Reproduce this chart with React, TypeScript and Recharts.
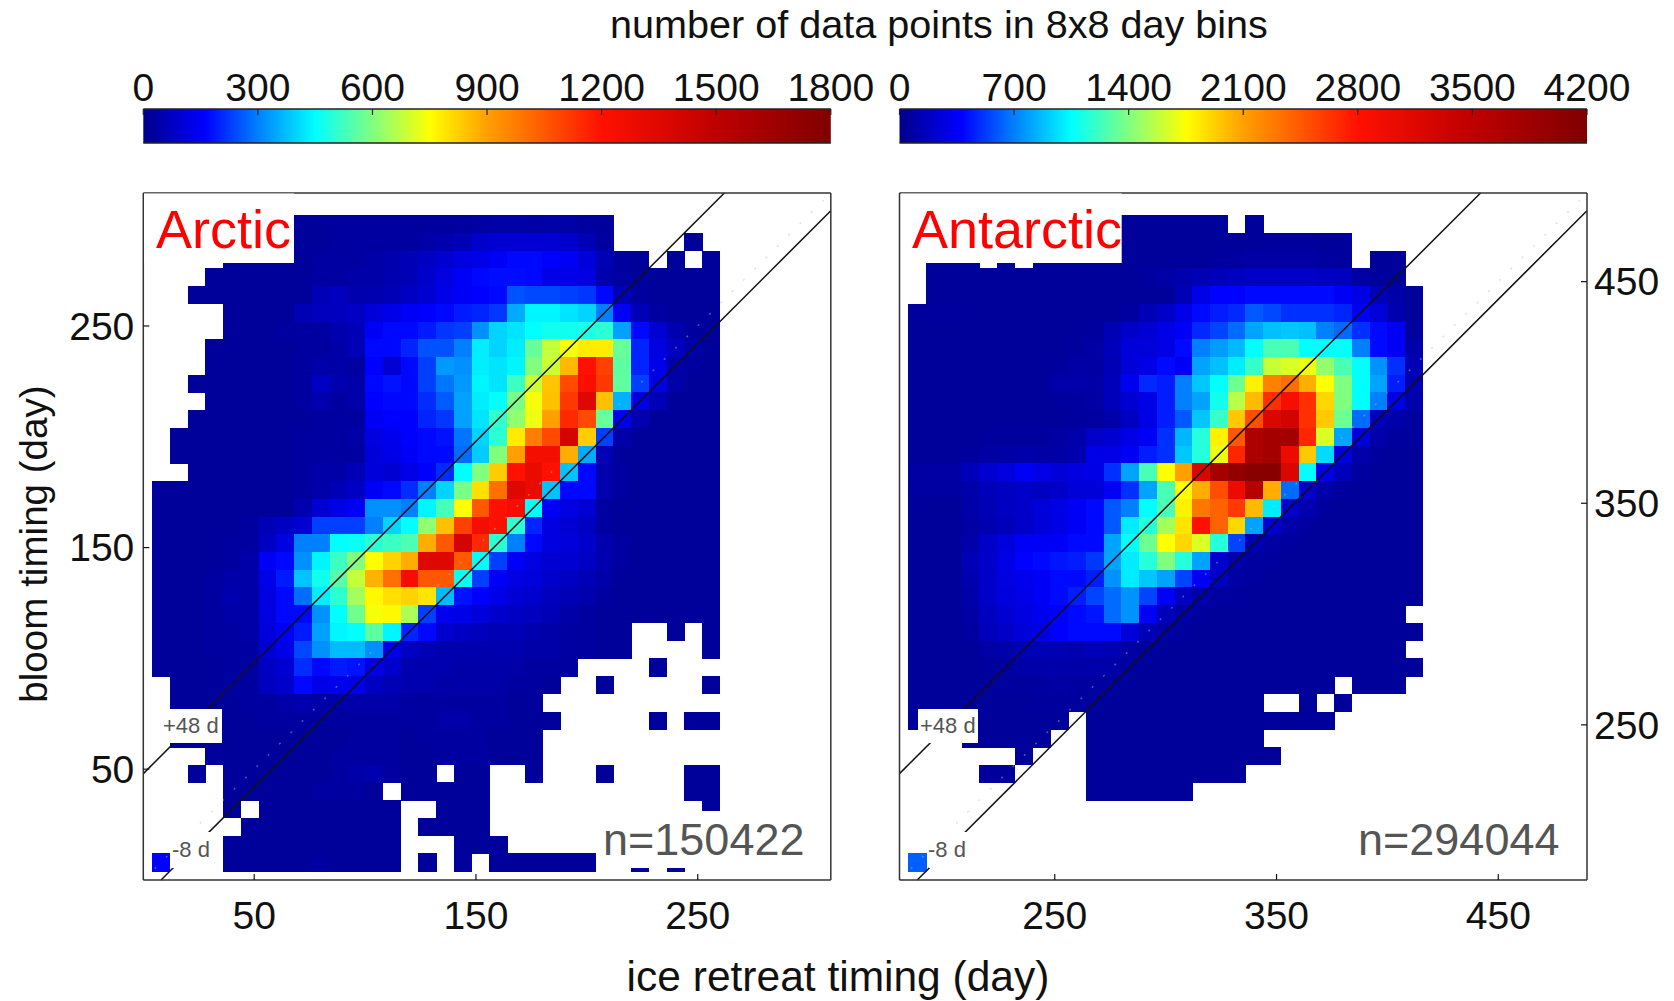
import React from "react";
import {
  ScatterChart,
  Scatter,
  XAxis,
  YAxis,
  ReferenceLine,
  ReferenceArea,
} from "recharts";

const _ = null;
const FONT = "'Liberation Sans', Arial, sans-serif";

// colour scale: position 0..1 and colour
const scaleStops = [0, 0.09, 0.167, 0.25, 0.333, 0.417, 0.5, 0.667, 0.83, 1];
const scaleColors = ["#00008c", "#0000ff", "#0080ff", "#00ffff", "#80ff80", "#ffff00", "#ffa000", "#ff1000", "#c00000", "#800000"];

const arcticTicks = [50, 150, 250];
const antarcticTicks = [250, 350, 450];
const arcticBarTicks = [0, 300, 600, 900, 1200, 1500, 1800];
const antarcticBarTicks = [0, 700, 1400, 2100, 2800, 3500, 4200];

// counts per 8x8 day bin, top row first. Columns start at day 8, rows at day 296
const arcticRows = [
  [_,_,_,_,_,_,_,_,20,20,25,25,25,25,25,25,25,30,35,40,40,35,40,40,30,25,_,_,_,_,_,_],
  [_,_,_,_,_,_,_,_,20,20,30,30,30,30,30,40,50,60,90,100,100,100,100,90,60,30,_,_,_,_,20,_],
  [_,_,_,_,20,20,20,20,20,30,30,30,40,50,60,80,100,120,130,150,170,170,160,150,110,60,30,20,_,20,_,20],
  [_,_,_,20,20,20,20,20,20,30,30,40,40,50,60,90,120,150,170,175,175,170,130,130,120,50,30,20,20,20,20,20],
  [_,_,20,20,20,20,20,20,20,60,70,50,50,60,80,100,130,150,160,170,250,240,240,230,220,170,60,30,20,20,20,20],
  [_,_,_,_,20,20,20,20,60,70,70,80,110,130,150,160,170,190,200,220,350,440,440,420,400,300,150,60,30,20,20,20],
  [_,_,_,_,20,20,20,30,30,30,50,60,150,170,170,190,220,230,320,400,420,450,470,470,480,500,340,170,100,50,30,20],
  [_,_,_,20,20,20,20,20,30,30,40,60,170,170,200,250,250,300,430,400,430,570,680,740,780,780,570,200,120,70,40,20],
  [_,_,_,20,20,20,20,20,30,40,40,30,160,100,170,230,330,320,430,420,440,600,690,860,1200,1100,560,200,130,40,30,20],
  [_,_,20,20,20,20,20,20,30,80,50,40,170,180,170,230,290,330,440,420,520,690,840,1080,1230,1120,560,230,120,40,20,20],
  [_,_,_,20,20,20,20,20,30,50,30,40,160,170,170,210,260,340,430,450,590,740,850,1120,1350,850,360,120,60,20,20,20],
  [_,_,20,20,20,20,20,20,20,30,30,30,150,160,160,200,220,340,420,510,620,730,900,1150,1080,570,130,50,20,20,20,20],
  [_,20,20,20,20,20,20,20,30,30,30,40,120,140,160,170,180,290,400,500,780,970,1080,1400,830,230,40,20,20,20,20,20],
  [_,20,20,20,20,20,20,20,30,30,30,30,110,130,150,170,170,280,390,600,900,1250,1250,880,350,60,20,20,20,20,20,20],
  [_,_,20,20,20,20,20,20,30,40,40,60,110,100,130,160,210,450,600,830,1200,1300,1200,380,170,50,30,20,20,20,20,20],
  [20,20,20,20,20,20,20,20,30,40,60,80,150,170,210,300,400,590,800,1000,1350,1300,380,170,170,50,30,20,20,20,20,20],
  [20,20,20,20,20,20,20,20,50,100,130,150,320,320,300,440,530,750,1050,1200,1250,450,150,120,100,30,20,20,20,20,20,20],
  [20,20,20,20,20,30,60,80,100,230,230,230,300,400,450,620,850,1100,1250,1200,500,200,120,100,80,30,20,20,20,20,20,20],
  [20,20,20,20,30,30,80,120,300,300,450,460,500,520,540,880,1050,1400,1150,500,300,170,120,110,90,50,30,20,20,20,20,20],
  [20,20,20,20,30,40,150,170,320,440,520,600,750,820,880,1350,1350,1050,450,230,150,120,100,100,80,50,30,20,20,20,20,20],
  [20,20,20,30,40,40,130,190,380,470,550,680,870,1000,1250,1050,1050,460,230,150,120,110,90,80,60,40,20,20,20,20,20,20],
  [20,20,20,30,50,40,120,170,280,430,500,640,760,800,820,790,370,180,160,130,100,90,70,60,50,30,20,20,20,20,20,20],
  [20,20,20,30,40,40,120,170,170,320,450,580,740,760,650,230,140,130,110,90,80,70,60,40,30,20,20,20,20,20,20,20],
  [20,20,20,30,30,40,110,150,190,340,440,450,560,440,200,170,90,80,70,60,60,50,40,30,30,20,20,_,_,20,_,20],
  [20,20,20,30,30,30,100,130,240,320,370,370,320,130,80,60,50,50,50,50,50,40,40,30,30,20,20,_,_,_,_,20],
  [20,20,20,20,30,30,80,100,210,170,190,180,120,90,50,50,50,40,40,40,40,30,30,30,_,_,_,_,20,_,_,_],
  [_,20,20,20,30,30,70,90,170,130,140,130,80,60,50,50,40,40,40,40,30,30,20,_,_,20,_,_,_,_,_,20],
  [_,20,20,20,20,30,30,40,50,40,40,40,40,40,30,30,30,30,30,30,20,20,_,_,_,_,_,_,_,_,_,_],
  [_,20,20,20,20,20,30,30,30,30,30,30,30,30,30,30,40,40,30,30,20,20,20,_,_,_,_,_,20,_,20,20],
  [_,20,20,20,20,20,20,20,20,20,20,30,30,30,20,30,30,30,30,20,20,20,_,_,_,_,_,_,_,_,_,_],
  [_,_,_,20,20,20,20,20,20,20,30,30,30,30,20,20,30,30,30,20,20,20,_,_,_,_,_,_,_,_,_,_],
  [_,_,20,_,20,20,20,20,20,20,30,40,50,30,20,20,_,20,20,_,_,20,_,_,_,20,_,_,_,_,20,20],
  [_,_,_,_,20,20,20,20,20,30,30,30,20,_,20,20,20,20,20,_,_,_,_,_,_,_,_,_,_,_,20,20],
  [_,_,_,_,20,_,20,20,20,20,20,20,20,20,_,_,20,20,20,_,_,_,_,_,_,_,_,_,_,_,_,20],
  [_,_,_,_,_,20,20,20,20,20,20,20,20,20,_,20,20,20,20,_,_,_,_,_,_,_,_,_,_,_,_,_],
  [_,_,_,_,20,20,20,20,20,20,20,20,20,20,_,_,_,20,20,20,_,_,_,_,_,_,_,_,_,_,_,_],
  [160,_,_,_,20,20,20,20,20,30,20,20,20,20,_,20,_,20,_,20,20,20,20,20,20,_,_,20,_,20,_,_],
];

// columns start at day 188, rows at day 476
const antarcticRows = [
  [_,_,_,_,_,_,_,_,_,_,_,_,50,50,50,50,50,50,_,50,_,_,_,_,_,_,_,_,_],
  [_,_,_,_,_,_,_,_,_,_,_,_,50,50,50,50,50,50,50,50,60,60,60,50,50,_,_,_,_],
  [_,50,50,50,_,50,_,50,50,50,50,50,50,50,50,50,50,60,70,80,80,80,80,70,60,_,50,50,_],
  [_,50,50,50,50,50,50,50,50,50,50,50,50,70,90,110,130,150,170,190,190,190,190,180,170,80,60,50,_],
  [_,50,50,50,50,50,50,50,50,50,50,50,50,50,50,130,300,380,380,400,400,400,400,400,350,300,150,100,50],
  [50,60,60,50,50,50,50,50,50,50,50,50,70,130,200,300,400,450,480,600,560,500,500,500,470,350,250,120,50],
  [50,50,50,50,50,50,50,50,50,50,60,130,200,230,300,350,480,550,650,800,880,900,880,700,650,500,400,350,60],
  [50,50,50,50,50,50,50,50,50,60,80,150,260,250,300,400,700,780,860,1050,1250,1250,1050,1050,1050,700,400,350,100],
  [50,50,50,50,50,50,50,50,60,80,80,130,250,300,400,350,800,880,1000,1200,1600,1650,1700,1450,1250,1050,750,500,130],
  [50,50,50,50,50,50,50,50,100,100,90,150,330,480,450,700,900,1050,1350,1800,2250,2350,2050,1750,1400,1050,800,450,120],
  [50,50,50,50,50,50,50,50,60,70,80,150,230,300,450,700,800,1100,1550,2000,2650,2900,2650,1900,1400,1050,700,300,100],
  [50,50,50,50,50,50,50,50,50,60,70,100,180,300,450,600,900,1200,1950,2500,3200,3300,2650,1950,1350,650,150,100,60],
  [50,50,50,50,60,60,60,60,80,100,200,230,300,350,500,850,1150,1800,2450,3700,3800,3800,2700,1650,800,250,100,60,60],
  [50,50,50,60,80,90,100,90,90,120,300,300,350,450,500,900,1150,1700,2700,3700,3800,3000,1950,950,250,100,60,50,50],
  [80,80,80,150,220,270,350,300,250,280,300,500,800,1250,1750,2100,3200,3800,4000,4100,4100,3200,1050,300,150,70,50,50,50],
  [60,60,60,100,150,180,200,170,200,250,250,350,500,800,1250,1750,2050,2500,3000,3600,2050,650,200,100,60,50,50,50,50],
  [50,50,50,100,130,180,200,250,300,350,400,600,700,1050,1250,1800,2300,2400,2600,2000,1000,200,120,60,50,50,50,50,50],
  [50,50,50,80,120,150,200,250,300,350,400,600,1000,1150,1500,1850,2800,2400,1900,800,220,100,60,50,50,50,50,50,50],
  [50,50,50,100,200,270,350,350,350,400,400,800,1050,1350,1750,1900,1650,1150,550,120,80,60,50,50,50,50,50,50,50],
  [50,50,50,130,200,300,380,400,430,450,520,800,1000,1150,1400,1150,800,220,100,70,60,50,50,50,50,50,50,50,50],
  [50,50,50,120,200,280,320,350,400,400,450,750,1000,900,800,550,350,170,80,60,50,50,50,50,50,50,50,50,50],
  [50,50,50,100,200,270,300,350,400,450,550,650,750,550,350,170,100,70,60,50,50,50,50,50,50,50,50,50,50],
  [50,50,50,80,170,230,280,330,370,400,430,650,750,350,150,80,60,50,50,50,50,50,50,50,50,50,50,50,_],
  [50,50,50,70,150,200,250,280,370,400,400,400,250,130,80,60,50,50,50,50,50,50,50,50,50,50,50,50,50],
  [50,50,50,50,80,100,130,130,130,120,150,130,80,60,50,50,50,50,50,50,50,50,50,50,50,50,50,50,_],
  [50,50,50,50,60,70,100,100,100,100,100,90,60,50,50,50,50,50,50,50,50,50,50,50,50,50,50,50,50],
  [50,50,50,50,50,60,60,70,80,70,70,60,50,50,50,50,50,50,50,50,50,50,50,50,_,50,50,50,_],
  [50,50,50,50,50,50,50,60,60,60,50,50,50,50,50,50,50,50,50,50,_,_,50,_,50,_,_,_,_],
  [50,50,50,50,50,50,50,50,50,_,50,50,50,50,50,50,50,50,50,50,50,50,50,50,_,_,_,_,_],
  [_,_,_,50,50,50,50,50,_,_,50,50,50,50,50,50,50,50,50,50,_,_,_,_,_,_,_,_,_],
  [_,_,_,_,_,_,50,_,_,_,50,50,50,50,50,50,50,50,50,50,50,_,_,_,_,_,_,_,_],
  [_,_,_,_,50,50,_,_,_,_,50,50,50,50,50,50,50,50,50,_,_,_,_,_,_,_,_,_,_],
  [_,_,_,_,_,_,_,_,_,_,50,50,50,50,50,50,_,_,_,_,_,_,_,_,_],
  [],
  [],
  [],
  [620],
];

const hexToRgb = (hex: string) => [1, 3, 5].map((i) => parseInt(hex.slice(i, i + 2), 16));

// map a count onto the colour bar
function countColor(count: number, max: number) {
  const t = Math.min(1, count / max);
  let k = 0;
  while (k < scaleStops.length - 2 && t > scaleStops[k + 1]) k++;
  const f = (t - scaleStops[k]) / (scaleStops[k + 1] - scaleStops[k]);
  const a = hexToRgb(scaleColors[k]);
  const b = hexToRgb(scaleColors[k + 1]);
  const c = a.map((v, i) => Math.round(v + (b[i] - v) * f));
  return `rgb(${c[0]},${c[1]},${c[2]})`;
}

function buildCells(rows: (number | null)[][], xFirst: number, yTop: number) {
  const cells: { x: number; y: number; count: number }[] = [];
  rows.forEach((row, j) =>
    row.forEach((count, i) => {
      if (count !== null) cells.push({ x: xFirst + 8 * i, y: yTop - 8 * j, count });
    })
  );
  return cells;
}

const PLOT_SIZE = 687.5;
const AXIS_COLOR = "#333";
const labelStyle = { fontSize: 39, fill: "#111", fontFamily: FONT };
const noMark = () => <g />;

interface Note {
  box: [number, number, number, number];
  text: string;
  x: number;
  y: number;
  size: number;
  color: string;
}

interface PanelProps {
  left: number;
  width: number;
  plotLeft: number;
  domain: [number, number];
  ticks: number[];
  labelsOnRight: boolean;
  cells: { x: number; y: number; count: number }[];
  max: number;
  notes: Note[];
}

function Panel({ left, width, plotLeft, domain, ticks, labelsOnRight, cells, max, notes }: PanelProps) {
  const cellPx = (8 * PLOT_SIZE) / (domain[1] - domain[0]);
  const [lo, hi] = domain;
  const drawCell = (p: any) => (
    <rect
      x={p.cx - cellPx / 2}
      y={p.cy - cellPx / 2}
      width={cellPx + 0.5}
      height={cellPx + 0.5}
      fill={countColor(p.payload.count, max)}
      shapeRendering="crispEdges"
    />
  );
  const sideWidth = 60;
  const plotX = plotLeft - left;
  // anchor points so that every axis has a series behind it
  const anchor = [{ x: lo, y: lo }];
  const axisProps = {
    type: "number" as const,
    domain,
    ticks,
    interval: 0 as const,
    axisLine: { stroke: AXIS_COLOR, strokeWidth: 1.5 },
    tickLine: { stroke: "#111", strokeWidth: 1.2 },
    tickSize: -6,
  };
  return (
    <div style={{ position: "absolute", left, top: 0 }}>
      {/* the bins go underneath, lines and boxes need to sit above them */}
      <div style={{ position: "absolute", left: 0, top: 0 }}>
        <ScatterChart
          width={width}
          height={1001}
          margin={{ top: 193, bottom: 121, left: plotX, right: width - plotX - PLOT_SIZE }}
        >
          <XAxis type="number" dataKey="x" domain={domain} hide />
          <YAxis type="number" dataKey="y" domain={domain} hide />
          <Scatter data={cells} shape={drawCell} isAnimationActive={false} />
        </ScatterChart>
      </div>
      <div style={{ position: "absolute", left: 0, top: 0 }}>
        <ScatterChart
          width={width}
          height={1001}
          margin={{
            top: 192,
            bottom: 71,
            left: plotX - (labelsOnRight ? 1 : sideWidth),
            right: width - plotX - PLOT_SIZE - (labelsOnRight ? sideWidth : 1),
          }}
        >
          <XAxis {...axisProps} dataKey="x" height={50} tickMargin={27} tick={labelStyle} />
          <YAxis
            {...axisProps}
            dataKey="y"
            width={labelsOnRight ? 1 : sideWidth}
            tickMargin={labelsOnRight ? 0 : 15}
            tick={labelsOnRight ? false : labelStyle}
          />
          <XAxis {...axisProps} xAxisId="top" dataKey="x" orientation="top" height={1} tick={false} />
          <YAxis
            {...axisProps}
            yAxisId="right"
            dataKey="y"
            orientation="right"
            width={labelsOnRight ? sideWidth : 1}
            tickMargin={labelsOnRight ? 13 : 0}
            tick={labelsOnRight ? labelStyle : false}
          />
          <Scatter data={anchor} shape={noMark} isAnimationActive={false} />
          <Scatter xAxisId="top" yAxisId="right" data={anchor} shape={noMark} isAnimationActive={false} />
          <ReferenceLine
            segment={[{ x: lo, y: lo }, { x: hi, y: hi }]}
            stroke="#bbb"
            strokeWidth={1.5}
            strokeDasharray="2 14"
            strokeOpacity={0.45}
          />
          <ReferenceLine
            segment={[{ x: lo, y: lo + 48 }, { x: hi - 48, y: hi }]}
            stroke="#111"
            strokeWidth={1.5}
          />
          <ReferenceLine
            segment={[{ x: lo + 8, y: lo }, { x: hi, y: hi - 8 }]}
            stroke="#111"
            strokeWidth={1.5}
          />
        </ScatterChart>
      </div>
      <svg width={width} height={1001} style={{ position: "absolute", left: 0, top: 0, pointerEvents: "none" }}>
        {notes.map((n) => (
          <g key={n.text}>
            <rect x={n.box[0] - left} y={n.box[1]} width={n.box[2]} height={n.box[3]} fill="#fff" />
            <text x={n.x - left} y={n.y} fontSize={n.size} fill={n.color} fontFamily={FONT}>
              {n.text}
            </text>
          </g>
        ))}
      </svg>
    </div>
  );
}

function ColorBar({ id, left, plotLeft, width, max, ticks }: { id: string; left: number; plotLeft: number; width: number; max: number; ticks: number[] }) {
  const anchor = [{ x: 0, y: 0 }];
  const plotX = plotLeft - left;
  const barAxis = {
    type: "number" as const,
    dataKey: "x",
    domain: [0, max],
    ticks,
    height: 1,
    interval: 0 as const,
    axisLine: { stroke: "#222", strokeWidth: 1.5 },
    tickLine: { stroke: "#222", strokeWidth: 1.2 },
    tickSize: -6,
  };
  return (
    <div style={{ position: "absolute", left, top: 0 }}>
      {/* gradient first, the axes with their inner ticks on top of it */}
      <div style={{ position: "absolute", left: 0, top: 0 }}>
        <ScatterChart
          width={width}
          height={170}
          margin={{ top: 109, bottom: 27, left: plotX, right: width - plotX - PLOT_SIZE }}
        >
          <defs>
            <linearGradient id={id} x1="0" x2="1" y1="0" y2="0">
              {scaleStops.map((s, i) => (
                <stop key={s} offset={s} stopColor={scaleColors[i]} />
              ))}
            </linearGradient>
          </defs>
          <XAxis type="number" dataKey="x" domain={[0, max]} hide />
          <YAxis type="number" dataKey="y" domain={[0, 1]} hide />
          <Scatter data={anchor} shape={noMark} isAnimationActive={false} />
          <ReferenceArea x1={0} x2={max} y1={0} y2={1} fill={`url(#${id})`} fillOpacity={1} stroke="none" />
        </ScatterChart>
      </div>
      <div style={{ position: "absolute", left: 0, top: 0 }}>
        <ScatterChart
          width={width}
          height={170}
          margin={{ top: 108, bottom: 26, left: plotX, right: width - plotX - PLOT_SIZE }}
        >
          <XAxis {...barAxis} xAxisId="top" orientation="top" tickMargin={14} tick={labelStyle} />
          <XAxis {...barAxis} tick={false} />
          <YAxis type="number" dataKey="y" domain={[0, 1]} hide />
          <Scatter data={anchor} shape={noMark} isAnimationActive={false} />
          <Scatter xAxisId="top" data={anchor} shape={noMark} isAnimationActive={false} />
        </ScatterChart>
      </div>
    </div>
  );
}

const arcticNotes: Note[] = [
  { box: [144, 193.5, 150, 69.5], text: "Arctic", x: 156, y: 248, size: 54, color: "#ff0000" },
  { box: [170, 709, 52, 34], text: "+48 d", x: 163, y: 733, size: 22, color: "#555" },
  { box: [172, 832, 40, 36], text: "-8 d", x: 172, y: 857, size: 22, color: "#555" },
  { box: [596, 811, 216, 57], text: "n=150422", x: 603, y: 855, size: 45, color: "#555" },
];

const antarcticNotes: Note[] = [
  { box: [901, 193.5, 220.7, 69.5], text: "Antarctic", x: 912, y: 248, size: 54, color: "#ff0000" },
  { box: [918, 709, 60, 34], text: "+48 d", x: 920, y: 733, size: 22, color: "#555" },
  { box: [929, 832, 38, 36], text: "-8 d", x: 928, y: 857, size: 22, color: "#555" },
  { box: [1354, 811, 216, 57], text: "n=294044", x: 1358, y: 855, size: 45, color: "#555" },
];

export default function App() {
  return (
    <div style={{ position: "absolute", left: 0, top: 0, width: 1674, height: 1001, background: "#fff", overflow: "hidden" }}>
      <ColorBar id="arcticScale" left={0} plotLeft={143.3} width={880} max={1800} ticks={arcticBarTicks} />
      <ColorBar id="antarcticScale" left={860} plotLeft={899.5} width={810} max={4200} ticks={antarcticBarTicks} />
      <Panel
        left={0}
        width={860}
        plotLeft={143.3}
        domain={[0, 310]}
        ticks={arcticTicks}
        labelsOnRight={false}
        cells={buildCells(arcticRows, 8, 296)}
        max={1800}
        notes={arcticNotes}
      />
      <Panel
        left={860}
        width={814}
        plotLeft={899.5}
        domain={[180, 490]}
        ticks={antarcticTicks}
        labelsOnRight
        cells={buildCells(antarcticRows, 188, 476)}
        max={4200}
        notes={antarcticNotes}
      />
      <svg width={1674} height={1001} style={{ position: "absolute", left: 0, top: 0, pointerEvents: "none" }}>
        <text x={939} y={38} textAnchor="middle" fontSize={39.6} fill="#111" fontFamily={FONT}>
          number of data points in 8x8 day bins
        </text>
        <text x={838} y={991} textAnchor="middle" fontSize={42.5} fill="#111" fontFamily={FONT}>
          ice retreat timing (day)
        </text>
        <text transform="translate(47,544) rotate(-90)" textAnchor="middle" fontSize={38.6} fill="#111" fontFamily={FONT}>
          bloom timing (day)
        </text>
      </svg>
    </div>
  );
}
